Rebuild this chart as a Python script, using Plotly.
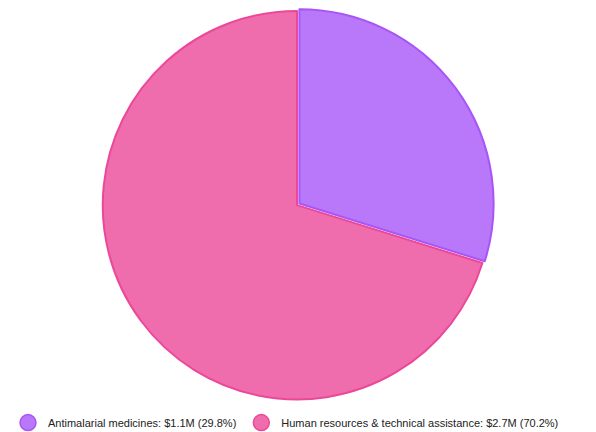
import plotly.graph_objects as go

categories = ["Antimalarial medicines", "Human resources & technical assistance"]
values = [1130000, 2660000]
fill_colors = ["rgba(168,85,247,0.8)", "rgba(236,72,153,0.8)"]
line_colors = ["#a855f7", "#ec4899"]

total = sum(values)
legend_labels = [
    f"{c}: ${v/1e6:.1f}M ({v/total*100:.1f}%)" for c, v in zip(categories, values)
]

fig = go.Figure()
fig.add_trace(go.Pie(
    labels=categories,
    values=values,
    sort=False,
    direction="clockwise",
    rotation=0,
    textinfo="none",
    pull=[0.015, 0],
    marker=dict(colors=fill_colors, line=dict(color=line_colors, width=2)),
    showlegend=False,
    domain=dict(x=[0, 0.983], y=[0.07, 1.0]),
))

for lab, fc, lc in zip(legend_labels, fill_colors, line_colors):
    fig.add_trace(go.Scatter(
        x=[None], y=[None], mode="markers", name=lab,
        marker=dict(symbol="circle", size=16, color=fc, line=dict(color=lc, width=1.5)),
        hoverinfo="skip",
    ))

fig.update_layout(
    width=588, height=424,
    margin=dict(l=0, r=0, t=0, b=0, autoexpand=False),
    paper_bgcolor="white", plot_bgcolor="white",
    xaxis=dict(visible=False), yaxis=dict(visible=False),
    showlegend=True,
    legend=dict(
        orientation="h", x=0, xanchor="left", y=-0.012, yanchor="bottom",
        font=dict(family="Liberation Sans, Arial, sans-serif", size=11, color="#222"),
        itemsizing="trace", itemwidth=30, tracegroupgap=0,
        bgcolor="rgba(0,0,0,0)",
    ),
)

fig.write_html("out.html")
